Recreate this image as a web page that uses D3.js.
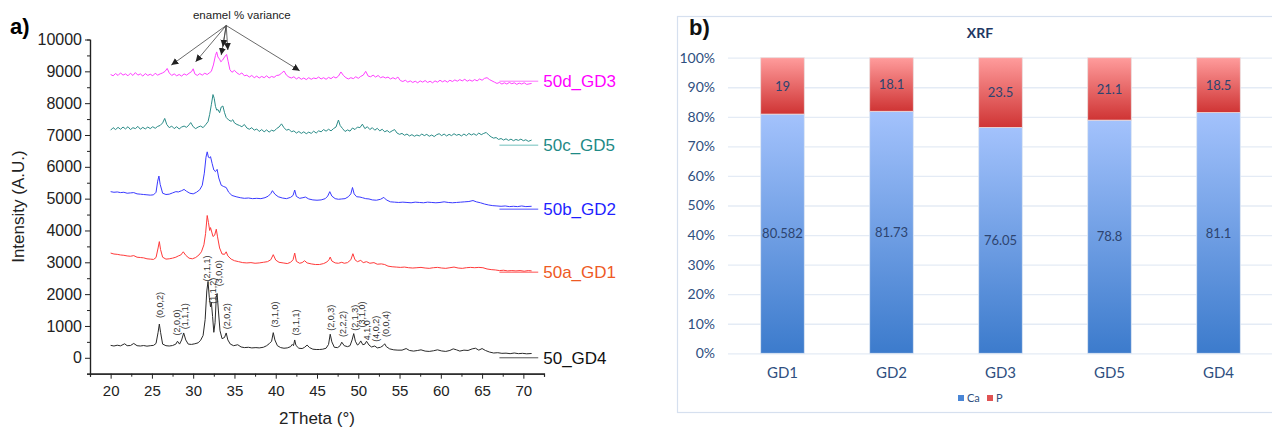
<!DOCTYPE html>
<html lang="en">
<head>
  <meta charset="utf-8">
  <title>XRD patterns and XRF composition</title>
  <script src="https://d3js.org/d3.v7.min.js"></script>
  <style>
    body { margin: 0; background: #fff; }
    svg { display: block; font-family: "Liberation Sans", Arial, sans-serif; }
    .xrd .domain, .xrd .tick line { stroke: #222; }
    .xrd .tick text { fill: #222; }
    .xrf .domain { display: none; }
    .xrf text { font-family: Lato, "Open Sans", sans-serif; }
  </style>
</head>
<body>
<svg width="1272" height="428"></svg>
<script>
// ---------- panel a) XRD patterns, [2theta, intensity] ----------
var gd4 = [[20.0,390],[20.4,370],[20.8,395],[21.2,375],[21.7,440],[22.0,380],[22.4,385],[22.8,450],[23.2,380],[23.6,370],[24.0,385],[24.4,365],[24.8,380],[25.2,390],[25.5,450],[25.75,800],[25.9,1060],[26.05,800],[26.3,430],[26.7,380],[27.1,370],[27.5,385],[27.9,430],[28.1,520],[28.35,430],[28.6,560],[28.85,780],[29.1,560],[29.4,430],[29.8,420],[30.2,440],[30.6,470],[30.9,550],[31.2,700],[31.45,1200],[31.65,2100],[31.8,2400],[31.95,1900],[32.1,1600],[32.2,1750],[32.35,1300],[32.5,800],[32.65,1100],[32.8,1900],[32.9,2020],[33.05,1500],[33.25,850],[33.5,600],[33.8,640],[34.0,780],[34.2,560],[34.5,430],[34.9,380],[35.4,410],[35.8,340],[36.2,320],[36.7,330],[37.1,310],[37.6,320],[38.0,310],[38.5,330],[38.9,380],[39.2,440],[39.5,520],[39.7,790],[39.9,560],[40.2,380],[40.6,320],[41.0,300],[41.4,310],[41.8,350],[42.0,420],[42.15,380],[42.3,560],[42.45,390],[42.8,300],[43.2,290],[43.5,330],[43.8,400],[44.1,320],[44.5,270],[44.9,260],[45.3,260],[45.7,270],[46.1,300],[46.4,420],[46.6,740],[46.8,500],[47.1,330],[47.5,320],[47.8,380],[48.0,490],[48.3,380],[48.7,350],[49.0,380],[49.25,560],[49.45,760],[49.65,520],[49.9,400],[50.1,440],[50.3,530],[50.55,410],[50.8,430],[51.0,520],[51.3,400],[51.6,340],[52.0,370],[52.3,310],[52.7,330],[53.0,380],[53.2,440],[53.4,350],[53.8,280],[54.3,250],[54.8,240],[55.3,240],[55.8,290],[56.2,230],[56.7,210],[57.2,230],[57.6,250],[58.1,210],[58.6,200],[59.1,220],[59.6,250],[60.1,215],[60.6,200],[61.1,230],[61.5,280],[61.9,250],[62.3,210],[62.8,240],[63.3,230],[63.8,280],[64.2,300],[64.6,240],[65.0,290],[65.4,230],[65.9,180],[66.4,150],[66.9,160],[67.4,140],[67.9,145],[68.4,130],[68.9,150],[69.4,130],[69.9,140],[70.4,125],[71.0,135]];

var gd1 = [[20.0,3290],[20.4,3260],[20.8,3250],[21.2,3230],[21.6,3220],[22.0,3200],[22.4,3190],[22.8,3210],[23.2,3160],[23.6,3150],[24.0,3140],[24.4,3110],[24.8,3100],[25.2,3090],[25.5,3150],[25.75,3450],[25.9,3650],[26.05,3400],[26.3,3160],[26.7,3100],[27.1,3110],[27.5,3130],[27.9,3160],[28.2,3200],[28.5,3230],[28.8,3330],[29.1,3220],[29.5,3130],[29.9,3110],[30.3,3150],[30.7,3230],[31.0,3330],[31.3,3550],[31.5,3900],[31.7,4470],[31.85,4250],[32.0,4000],[32.1,4090],[32.25,3950],[32.4,3810],[32.6,3850],[32.8,4040],[32.95,3800],[33.2,3450],[33.5,3260],[33.8,3250],[34.0,3330],[34.2,3200],[34.6,3100],[35.0,3050],[35.5,3020],[36.0,2990],[36.5,2980],[37.0,2990],[37.5,2970],[38.0,2980],[38.5,3000],[39.0,3020],[39.4,3080],[39.7,3240],[40.0,3070],[40.4,3000],[40.9,2980],[41.4,2960],[41.8,3000],[42.1,3080],[42.3,3290],[42.5,3030],[42.9,2970],[43.2,2990],[43.5,3050],[43.8,2980],[44.3,2950],[44.8,2930],[45.3,2930],[45.8,2960],[46.2,3010],[46.45,3080],[46.6,3165],[46.8,3040],[47.2,2980],[47.6,2970],[48.0,3000],[48.3,2970],[48.7,2990],[49.1,3080],[49.35,3270],[49.6,3080],[49.9,3020],[50.3,3060],[50.6,2990],[51.0,3020],[51.4,2970],[51.9,2990],[52.3,2940],[52.8,2950],[53.2,2930],[53.6,2880],[54.1,2860],[54.6,2850],[55.1,2840],[55.6,2850],[56.1,2830],[56.6,2820],[57.1,2830],[57.6,2840],[58.1,2820],[58.6,2810],[59.1,2830],[59.6,2840],[60.1,2820],[60.6,2810],[61.1,2830],[61.6,2850],[62.1,2820],[62.6,2810],[63.1,2830],[63.6,2840],[64.1,2830],[64.6,2840],[65.1,2830],[65.6,2790],[66.1,2770],[66.6,2760],[67.1,2740],[67.6,2750],[68.1,2730],[68.6,2740],[69.1,2730],[69.6,2740],[70.1,2720],[70.6,2740],[71.0,2730]];

var gd2 = [[20.0,5220],[20.4,5200],[20.8,5210],[21.2,5190],[21.6,5200],[22.0,5170],[22.4,5180],[22.8,5190],[23.2,5150],[23.6,5140],[24.0,5130],[24.4,5120],[24.8,5110],[25.2,5120],[25.5,5200],[25.7,5550],[25.85,5710],[26.0,5450],[26.3,5170],[26.7,5130],[27.1,5140],[27.5,5180],[27.9,5220],[28.2,5210],[28.6,5250],[28.9,5290],[29.2,5230],[29.6,5170],[30.0,5150],[30.4,5200],[30.8,5280],[31.1,5420],[31.35,5800],[31.55,6300],[31.7,6470],[31.85,6300],[32.0,6280],[32.1,6320],[32.3,6100],[32.5,5900],[32.7,5850],[32.9,5920],[33.1,5650],[33.4,5420],[33.7,5380],[34.0,5350],[34.3,5200],[34.7,5100],[35.2,5060],[35.7,5030],[36.2,5010],[36.7,5020],[37.2,5000],[37.7,5010],[38.2,5000],[38.7,5030],[39.1,5080],[39.4,5160],[39.6,5250],[39.9,5140],[40.3,5060],[40.8,5020],[41.3,5000],[41.8,5040],[42.1,5100],[42.3,5270],[42.5,5070],[42.9,5010],[43.3,5030],[43.6,5050],[44.0,4990],[44.5,4960],[45.0,4950],[45.5,4960],[46.0,5000],[46.3,5080],[46.55,5220],[46.8,5080],[47.2,5000],[47.6,4980],[48.0,4990],[48.4,5000],[48.8,5060],[49.1,5150],[49.3,5350],[49.5,5150],[49.8,5060],[50.2,5050],[50.5,5030],[50.9,5000],[51.3,4990],[51.7,4960],[52.2,4950],[52.7,4980],[53.1,5040],[53.4,4960],[53.9,4900],[54.4,4890],[54.9,4880],[55.4,4890],[55.9,4880],[56.4,4870],[56.9,4890],[57.4,4880],[57.9,4870],[58.4,4890],[58.9,4880],[59.4,4870],[59.9,4880],[60.4,4900],[60.9,4880],[61.4,4870],[61.9,4880],[62.4,4890],[62.9,4900],[63.4,4910],[63.9,4940],[64.3,4900],[64.8,4870],[65.3,4830],[65.8,4800],[66.3,4780],[66.8,4770],[67.3,4760],[67.8,4770],[68.3,4750],[68.8,4760],[69.3,4750],[69.8,4770],[70.3,4750],[71.0,4760]];

var gd5 = [[20.0,7150],[20.3,7230],[20.6,7170],[20.9,7240],[21.2,7180],[21.5,7250],[21.8,7190],[22.1,7260],[22.4,7170],[22.7,7230],[23.0,7200],[23.3,7270],[23.6,7180],[23.9,7240],[24.2,7190],[24.5,7250],[24.8,7200],[25.1,7260],[25.4,7210],[25.7,7270],[26.0,7300],[26.3,7380],[26.55,7520],[26.8,7330],[27.1,7230],[27.4,7280],[27.7,7200],[28.0,7260],[28.3,7190],[28.6,7250],[28.9,7280],[29.2,7240],[29.5,7320],[29.7,7390],[30.0,7260],[30.3,7200],[30.6,7250],[30.9,7280],[31.2,7230],[31.5,7320],[31.8,7420],[32.0,7650],[32.2,7950],[32.4,8270],[32.55,8150],[32.7,7900],[32.85,7780],[33.0,7800],[33.2,7700],[33.4,7880],[33.6,7910],[33.8,7700],[34.0,7550],[34.3,7470],[34.6,7430],[34.8,7480],[35.0,7380],[35.3,7330],[35.6,7300],[35.9,7260],[36.2,7330],[36.5,7220],[36.8,7180],[37.1,7230],[37.4,7150],[37.7,7190],[38.0,7110],[38.3,7170],[38.6,7100],[38.9,7160],[39.2,7090],[39.5,7150],[39.8,7120],[40.1,7200],[40.4,7250],[40.7,7350],[41.0,7230],[41.3,7150],[41.6,7180],[41.9,7100],[42.2,7130],[42.5,7060],[42.8,7110],[43.1,7050],[43.4,7100],[43.7,7040],[44.0,7090],[44.3,7050],[44.6,7120],[44.9,7060],[45.2,7130],[45.5,7100],[45.8,7170],[46.1,7120],[46.4,7180],[46.7,7130],[47.0,7200],[47.3,7250],[47.6,7470],[47.8,7300],[48.1,7200],[48.4,7110],[48.7,7160],[49.0,7120],[49.3,7220],[49.6,7170],[49.9,7250],[50.2,7230],[50.5,7340],[50.8,7200],[51.1,7260],[51.4,7170],[51.7,7230],[52.0,7150],[52.3,7210],[52.6,7130],[52.9,7180],[53.2,7100],[53.5,7140],[53.8,7080],[54.1,7130],[54.4,7170],[54.7,7060],[55.0,7020],[55.3,7050],[55.6,6990],[55.9,7030],[56.2,6970],[56.5,7010],[56.8,6960],[57.1,7000],[57.4,6970],[57.7,7030],[58.0,6980],[58.3,7020],[58.6,6960],[58.9,7000],[59.2,6950],[59.5,7010],[59.8,7040],[60.1,6980],[60.4,7030],[60.7,6970],[61.0,7020],[61.3,6980],[61.6,7040],[61.9,6990],[62.2,7020],[62.5,6970],[62.8,7030],[63.1,6980],[63.4,7050],[63.7,7000],[64.0,7040],[64.3,6990],[64.6,7060],[64.9,7010],[65.2,7050],[65.5,7080],[65.8,7000],[66.1,6940],[66.4,6900],[66.7,6920],[67.0,6860],[67.3,6890],[67.6,6840],[67.9,6880],[68.2,6830],[68.5,6870],[68.8,6820],[69.1,6860],[69.4,6830],[69.7,6870],[70.0,6820],[70.3,6850],[70.6,6800],[71.0,6840]];

var gd3 = [[20.0,8900],[20.3,8860],[20.6,8930],[20.9,8870],[21.2,8950],[21.5,8880],[21.8,8920],[22.1,8860],[22.4,8940],[22.7,8870],[23.0,8960],[23.3,8880],[23.6,8920],[23.9,8850],[24.2,8930],[24.5,8870],[24.8,8910],[25.1,8860],[25.4,8940],[25.7,8880],[26.0,8920],[26.3,8950],[26.6,9000],[26.85,9090],[27.1,8950],[27.4,8870],[27.7,8920],[28.0,8860],[28.3,8900],[28.6,8850],[28.9,8920],[29.2,8880],[29.5,8940],[29.8,8990],[30.0,9080],[30.2,8920],[30.5,8870],[30.8,8930],[31.1,8880],[31.4,8940],[31.7,8900],[32.0,8960],[32.2,9000],[32.45,9200],[32.7,9500],[32.85,9610],[33.0,9450],[33.2,9380],[33.35,9300],[33.55,9350],[33.8,9450],[34.05,9530],[34.25,9300],[34.45,9050],[34.7,8970],[35.0,9030],[35.3,8950],[35.6,8900],[35.9,8950],[36.2,8860],[36.5,8880],[36.8,8820],[37.1,8870],[37.4,8800],[37.7,8850],[38.0,8790],[38.3,8840],[38.6,8800],[38.9,8860],[39.2,8790],[39.5,8840],[39.8,8810],[40.1,8870],[40.4,8880],[40.7,8940],[41.0,9010],[41.3,8880],[41.6,8820],[41.9,8790],[42.2,8830],[42.5,8760],[42.8,8810],[43.1,8750],[43.4,8790],[43.7,8740],[44.0,8800],[44.3,8750],[44.6,8790],[44.9,8770],[45.2,8820],[45.5,8760],[45.8,8800],[46.1,8750],[46.4,8810],[46.7,8770],[47.0,8830],[47.3,8790],[47.6,8850],[47.9,8980],[48.2,8870],[48.5,8800],[48.8,8760],[49.1,8800],[49.4,8770],[49.7,8830],[50.0,8780],[50.3,8840],[50.6,8880],[50.9,9000],[51.2,8850],[51.5,8830],[51.8,8880],[52.1,8820],[52.4,8870],[52.7,8800],[53.0,8830],[53.3,8790],[53.6,8820],[53.9,8760],[54.2,8800],[54.5,8760],[54.8,8820],[55.1,8710],[55.4,8680],[55.7,8720],[56.0,8660],[56.3,8700],[56.6,8650],[56.9,8690],[57.2,8640],[57.5,8700],[57.8,8660],[58.1,8710],[58.4,8650],[58.7,8690],[59.0,8640],[59.3,8700],[59.6,8660],[59.9,8720],[60.2,8670],[60.5,8710],[60.8,8660],[61.1,8720],[61.4,8680],[61.7,8730],[62.0,8690],[62.3,8740],[62.6,8700],[62.9,8750],[63.2,8690],[63.5,8730],[63.8,8690],[64.1,8740],[64.4,8700],[64.7,8760],[65.0,8720],[65.3,8780],[65.6,8800],[65.9,8740],[66.2,8700],[66.5,8660],[66.8,8620],[67.1,8650],[67.4,8600],[67.7,8640],[68.0,8600],[68.3,8650],[68.6,8610],[68.9,8640],[69.2,8590],[69.5,8630],[69.8,8600],[70.1,8640],[70.4,8590],[71.0,8620]];

var seriesNames  = ["50_GD4", "50a_GD1", "50b_GD2", "50c_GD5", "50d_GD3"];
var seriesData   = [gd4, gd1, gd2, gd5, gd3];
var refLevels    = [0, 2690, 4670, 6680, 8690];   // short level marks beside the names
var lineColors   = ["#2a2a2a", "#ff3a3a", "#3a3aff", "#2b8c88", "#ff40ff"];
var labelColors  = ["#111111", "#ee5a24", "#1f1fff", "#1f8a86", "#ff00ff"];
var refColors    = ["#555555", "#ff5050", "#5050ff", "#6fc0bd", "#ff70ff"];

var xTicks = [20, 25, 30, 35, 40, 45, 50, 55, 60, 65, 70];
var xMinor = [17.5, 22.5, 27.5, 32.5, 37.5, 42.5, 47.5, 52.5, 57.5, 62.5, 67.5, 72.5];
var yTicks = [0, 1000, 2000, 3000, 4000, 5000, 6000, 7000, 8000, 9000, 10000];
var yMinor = [-500, 500, 1500, 2500, 3500, 4500, 5500, 6500, 7500, 8500, 9500];

// Miller indices on the GD4 pattern: [label, 2theta, intensity at label start]
var hklLabels = [["(0,0,2)",26.0,1250],["(2,0,0)",28.1,700],["(1,1,1)",29.0,900],["(2,1,1)",31.7,2400],
                 ["(1,1,2)",32.4,1700],["(3,0,0)",33.1,2250],["(2,0,2)",34.1,900],["(3,1,0)",39.9,950],
                 ["(3,1,1)",42.5,700],["(2,0,3)",46.7,850],["(2,2,2)",48.2,650],["(2,1,3)",49.6,850],
                 ["(3,1,0)",50.4,950],["4,1,0",51.1,550],["(4,0,2)",52.2,500],["(0,0,4)",53.3,650]];

// "enamel % variance" arrows: start point and peak targets [2theta, intensity]
var arrowFrom = [34.0, 10440];
var arrowTo   = [[27.35, 9195], [30.3, 9300], [33.4, 9510], [33.6, 9770], [34.2, 9670], [42.9, 9020]];

// ---------- panel b) XRF ----------
var xrfCats = ["GD1", "GD2", "GD3", "GD5", "GD4"];
var caVals  = [80.582, 81.73, 76.05, 78.8, 81.1];
var pVals   = [19, 18.1, 23.5, 21.1, 18.5];
var pctTicks = [0, 0.1, 0.2, 0.3, 0.4, 0.5, 0.6, 0.7, 0.8, 0.9, 1];

var svg = d3.select("svg");

// ================= XRD =================
var x = d3.scaleLinear().domain([17.5, 72.5]).range([90, 544]);
var y = d3.scaleLinear().domain([-500, 10000]).range([373.7, 39.5]);

var g = svg.append("g").attr("class", "xrd");

g.append("g").attr("transform", "translate(0," + y(-500) + ")")
  .call(d3.axisBottom(x).tickValues(xMinor).tickSize(3).tickFormat(""));
g.append("g").attr("transform", "translate(0," + y(-500) + ")")
  .call(d3.axisBottom(x).tickValues(xTicks).tickSize(5).tickSizeOuter(0).tickPadding(7))
  .selectAll(".tick text").attr("font-size", 15);
g.append("g").attr("transform", "translate(" + x(17.5) + ",0)")
  .call(d3.axisLeft(y).tickValues(yMinor).tickSize(3).tickFormat(""));
g.append("g").attr("transform", "translate(" + x(17.5) + ",0)")
  .call(d3.axisLeft(y).tickValues(yTicks).tickSize(5).tickSizeOuter(0).tickPadding(3)
    .tickFormat(d3.format("d")))
  .selectAll(".tick text").attr("font-size", 16);
g.selectAll(".domain").attr("stroke-width", 1.2);

var line = d3.line().x(function(d) { return x(d[0]); }).y(function(d) { return y(d[1]); });

seriesData.forEach(function(s, i) {
  g.append("path").datum(s)
    .attr("d", line)
    .attr("fill", "none")
    .attr("stroke", lineColors[i])
    .attr("stroke-width", 1)
    .attr("stroke-linejoin", "round");
  g.append("line")
    .attr("x1", x(67.1)).attr("x2", x(71.8))
    .attr("y1", y(refLevels[i])).attr("y2", y(refLevels[i]))
    .attr("stroke", refColors[i]).attr("stroke-width", 1);
  g.append("text")
    .attr("x", x(71.8) + 5).attr("y", y(refLevels[i]))
    .attr("dy", "0.36em")
    .attr("font-size", 17)
    .attr("fill", labelColors[i])
    .text(seriesNames[i]);
});

g.selectAll(".hkl").data(hklLabels).enter().append("text")
  .attr("class", "hkl")
  .attr("transform", function(d) { return "translate(" + (x(d[1]) + 3) + "," + y(d[2]) + ") rotate(-90)"; })
  .attr("font-size", 9)
  .attr("fill", "#333")
  .text(function(d) { return d[0]; });

svg.append("defs").append("marker")
  .attr("id", "arrow").attr("viewBox", "0 0 10 10")
  .attr("refX", 10).attr("refY", 5)
  .attr("markerWidth", 7).attr("markerHeight", 7)
  .attr("markerUnits", "userSpaceOnUse")
  .attr("orient", "auto")
  .append("path").attr("d", "M0,0L10,5L0,10z").attr("fill", "#222");

g.selectAll(".arrow").data(arrowTo).enter().append("line")
  .attr("class", "arrow")
  .attr("x1", x(arrowFrom[0])).attr("y1", y(arrowFrom[1]))
  .attr("x2", function(d) { return x(d[0]); })
  .attr("y2", function(d) { return y(d[1]); })
  .attr("stroke", "#444").attr("stroke-width", 0.8)
  .attr("marker-end", "url(#arrow)");

g.append("text").attr("x", x(35.9)).attr("y", 19)
  .attr("text-anchor", "middle").attr("font-size", 11.5).attr("fill", "#222")
  .text("enamel % variance");

g.append("text").attr("x", 10).attr("y", 34)
  .attr("font-size", 22).attr("font-weight", "bold").text("a)");

g.append("text")
  .attr("transform", "translate(24," + y(4750) + ") rotate(-90)")
  .attr("text-anchor", "middle").attr("font-size", 17).attr("fill", "#222")
  .text("Intensity (A.U.)");

g.append("text").attr("x", 317).attr("y", 424)
  .attr("text-anchor", "middle").attr("font-size", 17).attr("fill", "#222")
  .text("2Theta (°)");

// ================= XRF =================
var b = svg.append("g").attr("class", "xrf");

b.append("rect")
  .attr("x", 677.5).attr("y", 16.5).attr("width", 620).attr("height", 396)
  .attr("fill", "none").attr("stroke", "#d6e0ef").attr("stroke-width", 1.2);

var x2 = d3.scaleBand().domain(xrfCats).range([728, 1273]).paddingInner(0.6).paddingOuter(0.3);
var y2 = d3.scaleLinear().domain([0, 1]).range([353.3, 57.7]);

var defs = svg.select("defs");
function grad(id, top, bottom) {
  var lg = defs.append("linearGradient").attr("id", id)
    .attr("x1", 0).attr("y1", 0).attr("x2", 0).attr("y2", 1);
  lg.append("stop").attr("offset", "0%").attr("stop-color", top);
  lg.append("stop").attr("offset", "100%").attr("stop-color", bottom);
}
grad("gCa", "#a3c2fc", "#3c7bcc");
grad("gP", "#ff9c9c", "#cf3434");

b.append("g").attr("transform", "translate(728,0)")
  .call(d3.axisLeft(y2).tickValues(pctTicks).tickSize(-(1272 - 728)).tickPadding(13)
    .tickFormat(d3.format(".0%")))
  .call(function(a) {
    a.selectAll(".tick line").attr("stroke", "#e4ebf5").attr("stroke-width", 1.3);
    a.selectAll(".tick text").attr("font-size", 14).attr("fill", "#2f4f80");
  });

b.append("g").attr("transform", "translate(0," + y2(0) + ")")
  .call(d3.axisBottom(x2).tickSize(0).tickPadding(14))
  .call(function(a) {
    a.selectAll(".tick text").attr("font-size", 15).attr("fill", "#2f4f80");
  });

var rows = xrfCats.map(function(c, i) {
  var t = caVals[i] + pVals[i];
  return { cat: c, ca: caVals[i], p: pVals[i], caF: caVals[i] / t, pF: pVals[i] / t };
});

var bars = b.selectAll(".bar").data(rows).enter().append("g").attr("class", "bar");
bars.append("rect")
  .attr("x", function(d) { return x2(d.cat); })
  .attr("width", x2.bandwidth())
  .attr("y", function(d) { return y2(d.caF); })
  .attr("height", function(d) { return y2(0) - y2(d.caF); })
  .attr("fill", "url(#gCa)").attr("stroke", "#dfe7f3").attr("stroke-width", 0.8);
bars.append("rect")
  .attr("x", function(d) { return x2(d.cat); })
  .attr("width", x2.bandwidth())
  .attr("y", y2(1))
  .attr("height", function(d) { return y2(d.caF) - y2(1); })
  .attr("fill", "url(#gP)").attr("stroke", "#eadede").attr("stroke-width", 0.8);

bars.append("text")
  .attr("x", function(d) { return x2(d.cat) + x2.bandwidth() / 2; })
  .attr("y", function(d) { return y2(d.caF / 2); })
  .attr("dy", "0.36em").attr("text-anchor", "middle")
  .attr("font-size", 13).attr("fill", "#2d4470")
  .text(function(d) { return d.ca; });
bars.append("text")
  .attr("x", function(d) { return x2(d.cat) + x2.bandwidth() / 2; })
  .attr("y", function(d) { return y2(d.caF + d.pF / 2); })
  .attr("dy", "0.36em").attr("text-anchor", "middle")
  .attr("font-size", 13).attr("fill", "#2d4470")
  .text(function(d) { return d.p; });

b.append("text").attr("x", 980).attr("y", 38)
  .attr("text-anchor", "middle").attr("font-size", 14).attr("font-weight", "bold")
  .attr("fill", "#1f3864").text("XRF");

b.append("text").attr("x", 689).attr("y", 35)
  .attr("font-size", 22).attr("font-weight", "bold").attr("fill", "#111")
  .style("font-family", "'Liberation Sans', Arial, sans-serif").text("b)");

var legend = [["Ca", "#4a86d6"], ["P", "#e05252"]];
var lx = [958, 987];
legend.forEach(function(l, i) {
  b.append("rect").attr("x", lx[i]).attr("y", 395).attr("width", 6).attr("height", 6).attr("fill", l[1]);
  b.append("text").attr("x", lx[i] + 9).attr("y", 398).attr("dy", "0.36em")
    .attr("font-size", 11).attr("fill", "#2f4f80").text(l[0]);
});
</script>
</body>
</html>
